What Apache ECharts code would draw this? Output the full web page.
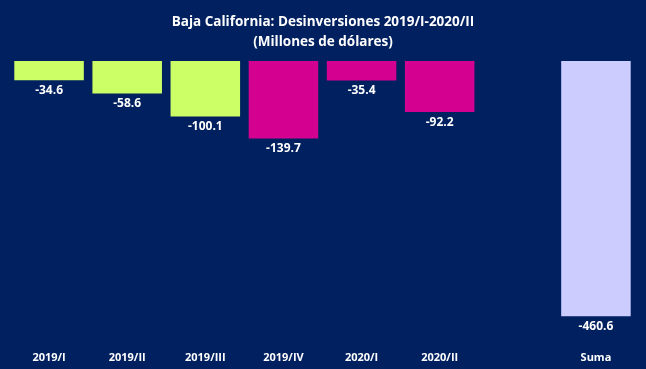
<!DOCTYPE html>
<html><head><meta charset="utf-8">
<script src="https://cdn.jsdelivr.net/npm/echarts@6/dist/echarts.min.js"></script>
<style>html,body{margin:0;padding:0;background:#002060}#c{width:646px;height:369px}</style>
</head><body><div id="c"></div>
<script>
var categories = ['2019/I','2019/II','2019/III','2019/IV','2020/I','2020/II','','Suma'];
var values = [-34.6, -58.6, -100.1, -139.7, -35.4, -92.2, null, -460.6];
var groups = ['a','a','a','b','b','b','','suma'];
var colorMap = {'a':'#CCFF66','b':'#D4008F','suma':'#CCCCFF','':'#000'};
var chart = echarts.init(document.getElementById('c'));
chart.setOption({
  backgroundColor:'#002060',
  animation:false,
  title:{text:'Baja California: Desinversiones 2019/I-2020/II\n(Millones de dólares)',left:'center',top:7,
    textStyle:{color:'#fff',fontFamily:'Open Sans',fontWeight:'bold',fontSize:13.5,lineHeight:20}},
  grid:{left:10,right:11,top:61,bottom:31},
  xAxis:{type:'category',data:categories,position:'bottom',axisLine:{show:false},axisTick:{show:false},
    axisLabel:{color:'#fff',fontFamily:'Open Sans',fontWeight:'bold',fontSize:11,margin:14}},
  yAxis:{type:'value',min:-500,max:0,show:false,splitLine:{show:false}},
  series:[{type:'bar',barWidth:'89%',
    data:values.map(function(v,i){return {value:v,itemStyle:{color:colorMap[groups[i]]}};}),
    label:{show:true,position:'bottom',distance:4,color:'#fff',fontFamily:'Open Sans',fontWeight:'bold',fontSize:12,
      formatter:function(p){return p.value==null?'':p.value.toFixed(1);}}
  }]
});
</script></body></html>
